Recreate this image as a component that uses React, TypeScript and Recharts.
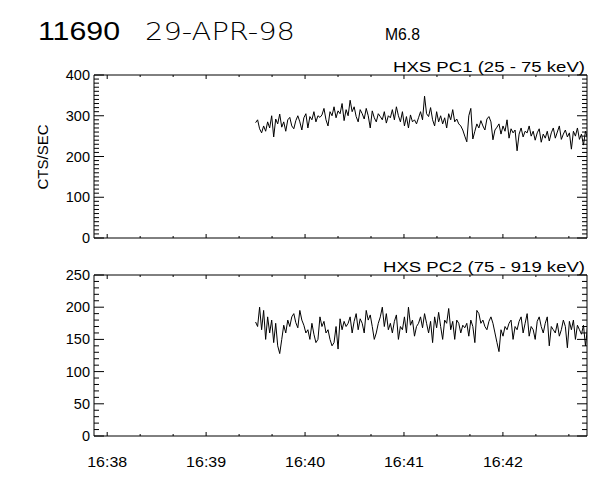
import React from 'react';
import { LineChart, Line, XAxis, YAxis } from 'recharts';

// HXS PC1 (25 - 75 keV) count rate, cts/sec
const pc1Counts = [
  283, 290, 268, 258, 275, 262, 285, 270, 300, 248, 292, 280, 304, 272, 285, 262, 290, 296, 275, 268, 288, 300,
  285, 265, 295, 305, 270, 298, 290, 310, 285, 300, 296, 302, 318, 290, 275, 310, 300, 322, 295, 312,
  305, 330, 288, 315, 300, 338, 310, 322, 298, 285, 315, 305, 292, 318, 300,
  270, 312, 295, 285, 305, 298, 290, 310, 282, 300, 295, 315, 290, 322, 300, 285, 310, 275, 298, 270, 302, 285, 290, 280, 295,
  310, 290, 348, 305, 298, 320, 290, 275, 310, 285, 300, 280, 295, 270, 305, 290, 315, 285, 292, 280, 275, 265, 250, 236, 300,
  318, 243, 262, 280, 270, 288, 275, 265, 292, 298, 285, 241, 265, 272, 280, 255, 275, 262, 290, 245, 268, 258,
  265, 214, 255, 270, 248, 262, 258, 275, 250, 262, 240, 258, 268, 235, 255, 245, 262, 238, 258, 270, 245, 260, 275, 242, 255, 265, 248, 258, 218, 262, 250, 270, 242, 255, 228, 262, 245,
];

// HXS PC2 (75 - 919 keV) count rate, cts/sec
const pc2Counts = [
  177, 170, 200, 165, 195, 150, 185, 160, 180, 145, 175, 140, 128, 150, 172, 160, 180, 170, 185, 190, 176, 168,
  195, 180, 172, 160, 165, 150, 175, 158, 145, 150, 185, 170, 178, 160, 165, 150, 140, 145,
  170, 135, 182, 165, 178, 170, 175, 185, 160, 178, 190, 165, 182, 175, 160, 195, 180,
  188, 170, 150, 160, 175, 185, 200, 170, 190, 165, 175, 160, 178, 188, 150, 170, 165, 185, 160, 200, 172, 180, 155, 170, 175, 185, 168, 190,
  175, 160, 178, 145, 185, 168, 192, 170, 150, 180, 175, 198, 165, 178, 150, 180, 175, 160, 172, 168, 175, 155, 180, 170, 145,
  195, 190, 175, 180, 170, 165, 178, 185, 175, 160, 145, 131, 165, 155, 170, 165, 175, 180, 150, 170, 165,
  178, 185, 160, 175, 190, 155, 170, 165, 150, 178, 185, 170, 160, 175, 185, 140, 170, 165, 160, 175, 155, 165, 180, 170, 137, 178, 165, 180, 150, 172, 165,
  158, 172, 140, 168,
];

// time axis, seconds after 16:38:00
const sampleStartSec = 90;
const sampleStepSec = 1.22;
const timeDomain = [-8, 291];
const timeTicks = [0, 20, 40, 60, 80, 100, 120, 140, 160, 180, 200, 220, 240, 260, 280];
const timeLabels: Record<number, string> = { 0: '16:38', 60: '16:39', 120: '16:40', 180: '16:41', 240: '16:42' };

const pc1Domain = [0, 400];
const pc1MajorTicks = [0, 100, 200, 300, 400];
const pc2Domain = [0, 250];
const pc2MajorTicks = [0, 50, 100, 150, 200, 250];

const tableData = pc1Counts.map((v, i) => ({
  t: sampleStartSec + i * sampleStepSec,
  pc1: v,
  pc2: pc2Counts[i],
}));

const minorTicks = (max: number, step: number) => {
  const out: number[] = [];
  for (let v = 0; v <= max; v += step) out.push(v);
  return out;
};

const FONT = "'Liberation Sans', Arial, sans-serif";
const THIN = "'DejaVu Sans', 'Liberation Sans', Arial, sans-serif";

const makeYTick = (side: 'left' | 'right', majors: number[]) => (props: any) => {
  const { x, y, payload } = props;
  const v = payload.value;
  const major = majors.includes(v);
  const len = major ? 10 : 5;
  const dir = side === 'left' ? 1 : -1;
  return (
    <g>
      <line x1={x} x2={x + dir * len} y1={y} y2={y} stroke="#000" strokeWidth={1} />
      {side === 'left' && major && (
        <text x={x - 4} y={y} dy={5} textAnchor="end" fontSize={14.5} fontFamily={FONT} fill="#000">
          {v}
        </text>
      )}
    </g>
  );
};

const makeXTick = (side: 'top' | 'bottom', withLabels: boolean) => (props: any) => {
  const { x, y, payload } = props;
  const v = payload.value;
  const major = v % 60 === 0;
  const len = major ? 4 : 2;
  const dir = side === 'bottom' ? -1 : 1;
  return (
    <g>
      <line x1={x} x2={x} y1={y} y2={y + dir * len} stroke="#000" strokeWidth={1} />
      {side === 'bottom' && withLabels && major && (
        <text x={x} y={y + 31} textAnchor="middle" fontSize={14.5} fontFamily={FONT} fill="#000"
          textLength={40} lengthAdjust="spacingAndGlyphs">
          {timeLabels[v]}
        </text>
      )}
    </g>
  );
};

const axisLine = { stroke: '#000', strokeWidth: 1 };

function Panel(props: {
  dataKey: string;
  domain: number[];
  majors: number[];
  minorStep: number;
  height: number;
  marginTop: number;
  marginBottom: number;
  bottomHeight: number;
  labels: boolean;
}) {
  const yt = minorTicks(props.domain[1], props.minorStep);
  return (
    <LineChart
      width={600}
      height={props.height}
      data={tableData}
      margin={{ top: props.marginTop, right: 3, bottom: props.marginBottom, left: 34 }}
    >
      <XAxis xAxisId="b" orientation="bottom" dataKey="t" type="number" domain={timeDomain}
        allowDataOverflow ticks={timeTicks} interval={0} tickSize={0} tickMargin={0} tickLine={false}
        axisLine={axisLine} height={props.bottomHeight} tick={makeXTick('bottom', props.labels)} />
      <XAxis xAxisId="t" orientation="top" dataKey="t" type="number" domain={timeDomain}
        allowDataOverflow ticks={timeTicks} interval={0} tickSize={0} tickMargin={0} tickLine={false}
        axisLine={axisLine} height={6} tick={makeXTick('top', false)} />
      <YAxis yAxisId="l" orientation="left" type="number" domain={props.domain} allowDataOverflow
        ticks={yt} interval={0} tickSize={0} tickMargin={0} tickLine={false} axisLine={axisLine}
        width={60} tick={makeYTick('left', props.majors)} />
      <YAxis yAxisId="r" orientation="right" type="number" domain={props.domain} allowDataOverflow
        ticks={yt} interval={0} tickSize={0} tickMargin={0} tickLine={false} axisLine={axisLine}
        width={10} tick={makeYTick('right', props.majors)} />
      <Line xAxisId="b" yAxisId="l" type="linear" dataKey={props.dataKey} stroke="#000" strokeWidth={1}
        dot={false} isAnimationActive={false} />
    </LineChart>
  );
}

export default function App() {
  return (
    <div style={{ position: 'absolute', left: 0, top: 0, width: 600, height: 480, background: '#fff' }}>
      <div style={{ position: 'absolute', left: 0, top: 0 }}>
        <Panel dataKey="pc1" domain={pc1Domain} majors={pc1MajorTicks} minorStep={10}
          height={250} marginTop={69} marginBottom={6} bottomHeight={6} labels={false} />
      </div>
      <div style={{ position: 'absolute', left: 0, top: 250 }}>
        <Panel dataKey="pc2" domain={pc2Domain} majors={pc2MajorTicks} minorStep={10}
          height={230} marginTop={19} marginBottom={14} bottomHeight={30} labels={true} />
      </div>
      <svg width={600} height={480} style={{ position: 'absolute', left: 0, top: 0, pointerEvents: 'none' }}>
        <text x={38} y={40} fontSize={25} fontFamily={FONT}
          textLength={82} lengthAdjust="spacingAndGlyphs" fill="#000">11690</text>
        <text x={145} y={40} fontSize={25} fontFamily={THIN} fontWeight={200} textLength={150}
          lengthAdjust="spacingAndGlyphs" fill="#000">29-APR-98</text>
        <text x={385} y={40} fontSize={16} fontFamily={FONT} textLength={35}
          lengthAdjust="spacingAndGlyphs" fill="#000">M6.8</text>
        <text x={585} y={72} fontSize={14} fontFamily={FONT} textAnchor="end" textLength={192}
          lengthAdjust="spacingAndGlyphs" fill="#000">HXS PC1 (25 - 75 keV)</text>
        <text x={585} y={272} fontSize={14} fontFamily={FONT} textAnchor="end" textLength={202}
          lengthAdjust="spacingAndGlyphs" fill="#000">HXS PC2 (75 - 919 keV)</text>
        <text x={48} y={157} fontSize={14} fontFamily={FONT} textAnchor="middle" textLength={65}
          lengthAdjust="spacingAndGlyphs" transform="rotate(-90 48 157)" fill="#000">CTS/SEC</text>
      </svg>
    </div>
  );
}
